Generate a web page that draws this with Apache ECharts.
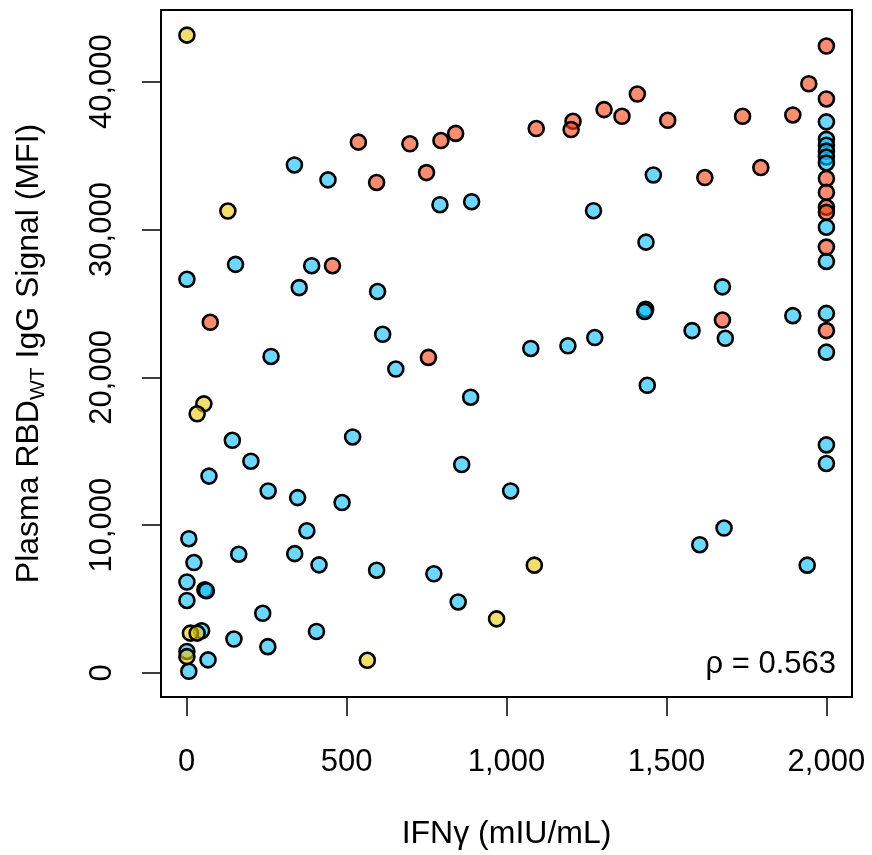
<!DOCTYPE html>
<html>
<head>
<meta charset="utf-8">
<script src="https://cdn.jsdelivr.net/npm/echarts@6/dist/echarts.min.js"></script>
<style>
html,body{margin:0;padding:0;background:#fff;}
#chart{width:872px;height:855px;}
</style>
</head>
<body>
<div id="chart"></div>
<script>
// IFNγ (mIU/mL) vs Plasma RBD_WT IgG signal (MFI), three groups
const bluePoints = [
  [337,34365],[442,33355],[792,31675],[891,31880],[153,27640],[1,26630],[391,27550],[352,26070],
  [597,25800],[613,22910],[2000,37280],[2000,36100],[2000,35700],[2000,35300],[2000,34900],[2000,34500],
  [2000,30155],[2000,27840],[1459,33690],[1272,31270],[1436,29145],[1675,26120],[1435,24600],[1432,24450],
  [1580,23160],[1895,24170],[2000,24325],[2000,21700],[1076,21950],[1192,22130],[1276,22690],[1684,22640],
  [264,21410],[654,20560],[888,18655],[143,15740],[519,15965],[201,14325],[70,13315],[860,14100],
  [1013,12310],[255,12310],[347,11860],[486,11525],[376,9615],[7,9080],[163,8030],[338,8070],
  [23,7465],[414,7310],[594,6950],[773,6705],[1,6150],[57,5620],[62,5560],[1,4900],
  [849,4800],[238,4035],[47,2850],[148,2290],[406,2805],[254,1775],[1,1450],[67,880],
  [7,110],[1440,19460],[2000,15425],[2000,14170],[1680,9800],[1604,8675],[1940,7290]
];
const salmonPoints = [
  [537,35910],[698,35800],[795,36020],[841,36500],[594,33180],[750,33850],[456,27550],[74,23720],
  [756,21345],[2000,42410],[1945,39860],[2000,38830],[1093,36830],[1208,37320],[1202,36760],[1305,38110],
  [1361,37660],[1409,39165],[1504,37390],[1738,37660],[1895,37750],[1620,33515],[1795,34190],[2000,33450],
  [2000,32510],[2000,31500],[2000,31160],[2000,28810],[1675,23875],[2000,23160]
];
const yellowPoints = [
  [1,43150],[129,31250],[54,18200],[33,17530],[12,2690],[33,2690],[1,1100],[565,855],[969,3655],[1087,7290]
];
const xTicks = [0,500,1000,1500,2000];
const yTicks = [0,10000,20000,30000,40000];
const rhoText = 'ρ = 0.563';

const FONT = '"Liberation Sans", Arial, sans-serif';
const fmt = v => Number(v).toLocaleString('en-US');

const chart = echarts.init(document.getElementById('chart'), null, {renderer:'canvas'});

function mkSeries(data, color){
  return {
    type:'scatter', data:data, symbol:'circle', symbolSize:15,
    itemStyle:{color:color, borderColor:'#000', borderWidth:2.6, opacity:1},
    emphasis:{disabled:true}, silent:true
  };
}

chart.setOption({
  animation:false,
  backgroundColor:'#fff',
  grid:{left:161, right:20, top:10, bottom:154, show:true, borderColor:'#000', borderWidth:2, backgroundColor:'transparent'},
  xAxis:{
    type:'value', min:-80, max:2080,
    axisLine:{show:true, onZero:false, lineStyle:{color:'#000', width:2}},
    splitLine:{show:false},
    axisTick:{show:true, inside:false, length:19, lineStyle:{color:'#000', width:1.5}, customValues:xTicks},
    axisLabel:{customValues:xTicks, formatter:fmt, color:'#000', fontSize:31, fontFamily:FONT, margin:50},
    name:'IFNγ (mIU/mL)', nameLocation:'middle', nameGap:121,
    nameTextStyle:{color:'#000', fontSize:32, fontFamily:FONT}
  },
  yAxis:{
    type:'value', min:-1630, max:44850,
    axisLine:{show:true, onZero:false, lineStyle:{color:'#000', width:2}},
    splitLine:{show:false},
    axisTick:{show:true, inside:false, length:19, lineStyle:{color:'#000', width:1.5}, customValues:yTicks},
    axisLabel:{customValues:yTicks, formatter:fmt, color:'#000', fontSize:31, fontFamily:FONT, margin:43, rotate:90},
    name:'{m|Plasma RBD}{s|WT}{m| IgG Signal (MFI)}', nameLocation:'middle', nameGap:116,
    nameTextStyle:{color:'#000', fontSize:32, fontFamily:FONT,
      rich:{
        m:{fontSize:32, fontFamily:FONT, color:'#000', lineHeight:36, verticalAlign:'bottom'},
        s:{fontSize:21, fontFamily:FONT, color:'#000', lineHeight:36, verticalAlign:'bottom', padding:[0,0,-4,0]}
      }}
  },
  graphic:[{
    type:'text', x:836, y:664, silent:true,
    style:{text:rhoText, fill:'#000', font:'31px ' + FONT, textAlign:'right', textVerticalAlign:'middle'}
  }],
  series:[
    mkSeries(bluePoints, 'rgba(10,190,255,0.6)'),
    mkSeries(salmonPoints, 'rgba(245,65,20,0.6)'),
    mkSeries(yellowPoints, 'rgba(233,200,13,0.6)')
  ]
});
</script>
</body>
</html>
